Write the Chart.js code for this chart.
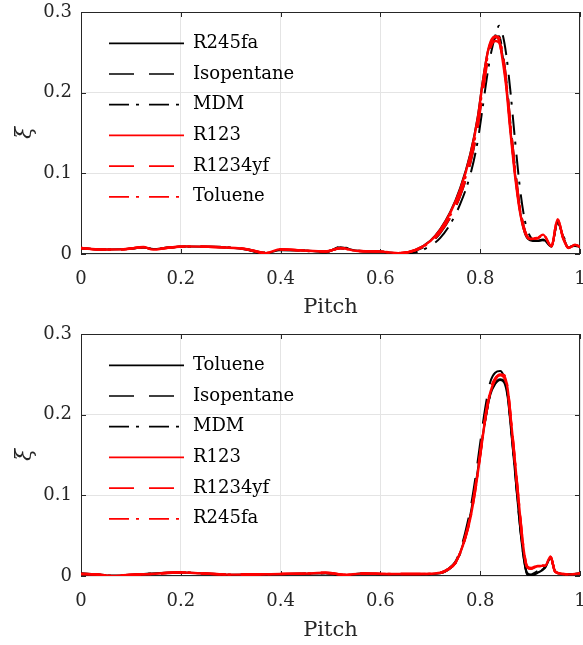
<!DOCTYPE html>
<html>
<head>
<meta charset="utf-8">
<script src="https://cdn.jsdelivr.net/npm/chart.js@4.4.1/dist/chart.umd.min.js"></script>
<style>
body { margin: 0; background: #fff; }
canvas { display: block; }
</style>
</head>
<body>
<canvas id="top" width="583" height="322"></canvas>
<canvas id="bottom" width="583" height="323"></canvas>
<script>
// top panel
const pitchTop = [0, 0.04, 0.09, 0.125, 0.145, 0.17, 0.21, 0.27, 0.33, 0.37, 0.4, 0.44, 0.49, 0.52, 0.55, 0.6, 0.64, 0.67, 0.7, 0.72, 0.74, 0.76, 0.78, 0.795, 0.805, 0.815, 0.822, 0.83, 0.838, 0.845, 0.852, 0.86, 0.87, 0.88, 0.89, 0.9, 0.913, 0.926, 0.943, 0.955, 0.967, 0.977, 0.99, 1.0];
const topR245fa = [.0073, .0057, .0063, .0080, .0062, .0076, .0092, .0088, .0058, .0008, .0050, .0048, .0025, .0085, .0042, .0028, .0008, .0050, .0165, .031, .052, .082, .124, .170, .214, .250, .264, .270, .266, .245, .212, .158, .098, .052, .025, .017, .016, .018, .009, .040, .020, .008, .011, .009];
const topIsopentane = [.0071, .0055, .0060, .0082, .0060, .0074, .0093, .0086, .0063, .0018, .0054, .0045, .0033, .0068, .0039, .0030, .0010, .0040, .0135, .026, .045, .072, .112, .157, .203, .242, .260, .268, .270, .250, .218, .166, .106, .057, .028, .018, .017, .019, .0095, .041, .019, .0078, .0112, .0089];
const topMDM = [.0070, .0056, .0062, .0078, .0064, .0078, .0090, .0090, .0055, .0002, .0045, .0042, .0020, .0090, .0044, .0026, .0002, .0020, .0100, .020, .037, .062, .098, .140, .182, .225, .250, .270, .283, .272, .248, .205, .140, .080, .040, .022, .016, .017, .010, .038, .022, .009, .010, .009];
const topR123 = [.0074, .0055, .0060, .0086, .0055, .0074, .0095, .0086, .0060, .0010, .0060, .0045, .0030, .0074, .0040, .0030, .0010, .0050, .0160, .030, .051, .080, .122, .168, .212, .250, .265, .269, .265, .240, .208, .155, .096, .051, .026, .0185, .019, .024, .0095, .043, .018, .0074, .0115, .0087];
const topR1234yf = [.0072, .0056, .0062, .0083, .0058, .0075, .0093, .0085, .0062, .0015, .0055, .0046, .0032, .0070, .0041, .0031, .0012, .0045, .0145, .027, .046, .073, .113, .158, .200, .240, .258, .264, .262, .242, .212, .160, .100, .054, .027, .019, .019, .023, .010, .042, .019, .0078, .011, .009];
const topToluene = [.0075, .0054, .0061, .0085, .0056, .0073, .0094, .0087, .0061, .0012, .0058, .0044, .0031, .0072, .0040, .0030, .0010, .0048, .0150, .028, .048, .076, .117, .163, .207, .246, .262, .270, .268, .248, .216, .164, .104, .056, .028, .019, .020, .024, .0095, .043, .018, .0075, .0115, .0088];

// bottom panel
const pitchBottom = [0, 0.03, 0.06, 0.1, 0.14, 0.2, 0.24, 0.3, 0.4, 0.45, 0.49, 0.53, 0.56, 0.62, 0.68, 0.72, 0.735, 0.75, 0.76, 0.77, 0.78, 0.79, 0.8, 0.81, 0.82, 0.83, 0.84, 0.848, 0.855, 0.862, 0.87, 0.878, 0.886, 0.894, 0.902, 0.915, 0.93, 0.941, 0.95, 0.965, 0.98, 1.0];
const botToluene = [.0030, .0020, .0005, .0012, .0030, .0042, .0033, .0016, .0024, .0028, .0035, .0008, .0030, .0022, .0022, .0035, .0075, .0160, .029, .049, .075, .110, .152, .193, .224, .238, .243, .240, .222, .180, .127, .072, .027, .002, .000, .004, .010, .022, .0060, .0025, .0022, .0033];
const botIsopentane = [.0028, .0022, .0008, .0015, .0028, .0040, .0034, .0018, .0025, .0030, .0038, .0012, .0031, .0024, .0023, .0040, .0085, .0175, .032, .054, .082, .120, .165, .208, .240, .252, .254, .246, .225, .182, .128, .073, .028, .003, .001, .005, .011, .023, .0062, .0026, .0023, .0034];
const botMDM = [.0032, .0018, .0003, .0010, .0032, .0043, .0032, .0015, .0023, .0027, .0033, .0005, .0029, .0021, .0021, .0033, .0072, .0155, .028, .047, .073, .108, .150, .192, .224, .239, .244, .242, .225, .184, .131, .076, .030, .004, .002, .006, .011, .023, .0058, .0024, .0021, .0032];
const botR123 = [.0025, .0020, .0000, .0015, .0025, .0045, .0033, .0017, .0025, .0030, .0040, .0015, .0030, .0025, .0025, .0040, .0080, .0160, .029, .047, .071, .106, .149, .194, .227, .243, .249, .248, .232, .191, .140, .087, .038, .011, .009, .0125, .0125, .024, .0054, .0025, .0020, .0033];
const botR1234yf = [.0026, .0021, .0002, .0016, .0026, .0044, .0034, .0018, .0026, .0031, .0041, .0016, .0032, .0026, .0026, .0041, .0082, .0165, .030, .049, .074, .110, .153, .197, .230, .245, .249, .246, .230, .189, .138, .085, .037, .011, .009, .012, .013, .024, .0056, .0026, .0021, .0034];
const botR245fa = [.0024, .0019, .0001, .0014, .0025, .0046, .0033, .0017, .0025, .0030, .0039, .0014, .0031, .0025, .0025, .0040, .0079, .0158, .029, .047, .071, .106, .150, .195, .228, .244, .250, .249, .233, .192, .141, .088, .039, .012, .010, .013, .013, .024, .0055, .0025, .0020, .0033];

const serif = 'DejaVu Serif';
const axisColor = '#262626';
const dashed = [25, 15];
const dashDot = [20, 7, 3, 10];

function points(xs, ys) {
  return xs.map((x, i) => ({x: x, y: ys[i]}));
}

function line(label, xs, ys, color, dash) {
  return {
    label: label,
    data: points(xs, ys),
    borderColor: color,
    borderWidth: color === 'red' ? 2.4 : 2,
    borderDash: dash,
    pointRadius: 0,
    cubicInterpolationMode: 'monotone',
    order: color === 'red' ? 0 : 1
  };
}

// inner ticks and box like the original figure
const frame = {
  id: 'frame',
  beforeDatasetsDraw(chart) {
    const {ctx, chartArea: a, scales} = chart;
    ctx.save();
    ctx.strokeStyle = axisColor;
    ctx.lineWidth = 1;
    ctx.beginPath();
    scales.x.ticks.forEach(t => {
      const px = Math.round(scales.x.getPixelForValue(t.value)) + 0.5;
      ctx.moveTo(px, a.bottom); ctx.lineTo(px, a.bottom - 5);
      ctx.moveTo(px, a.top); ctx.lineTo(px, a.top + 5);
    });
    scales.y.ticks.forEach(t => {
      const py = Math.round(scales.y.getPixelForValue(t.value)) + 0.5;
      ctx.moveTo(a.left, py); ctx.lineTo(a.left + 5, py);
      ctx.moveTo(a.right, py); ctx.lineTo(a.right - 5, py);
    });
    ctx.stroke();
    ctx.strokeRect(a.left + 0.5, a.top + 0.5, a.right - a.left - 1, a.bottom - a.top - 1);
    ctx.restore();
  }
};

// put the legend inside the axes, upper left
const legendSpot = {
  id: 'legendSpot',
  afterLayout(chart) {
    const lg = chart.legend, a = chart.chartArea;
    lg.left = a.left + 15.3;
    lg.top = a.top + 9.6;
    lg.right = lg.left + 300;
    lg.bottom = a.bottom;
  }
};

const tickText = v => String(+v.toFixed(2));

function makeChart(id, datasets, xHeight) {
  new Chart(document.getElementById(id), {
    type: 'line',
    data: {datasets: datasets},
    options: {
      responsive: false,
      animation: false,
      layout: {padding: {left: 0, right: 3, top: 12, bottom: 0}},
      plugins: {
        tooltip: {enabled: false},
        legend: {
          position: 'chartArea',
          align: 'start',
          labels: {
            usePointStyle: true,
            pointStyleWidth: 75,
            padding: 12.7,
            color: '#000',
            font: {family: serif, size: 18},
            generateLabels: chart => chart.data.datasets.map((ds, i) => ({
              text: ds.label,
              strokeStyle: ds.borderColor,
              fillStyle: ds.borderColor,
              lineWidth: 1.7,
              lineDash: ds.borderDash || [],
              pointStyle: 'line',
              datasetIndex: i,
              hidden: false
            }))
          }
        }
      },
      scales: {
        x: {
          type: 'linear',
          min: 0,
          max: 1,
          ticks: {stepSize: 0.2, padding: 15, color: axisColor, font: {family: serif, size: 18}, callback: tickText},
          grid: {color: '#e4e4e4', drawTicks: false},
          border: {display: false},
          title: {display: true, text: 'Pitch', color: axisColor, font: {family: serif, size: 21}, padding: {top: 0, bottom: 2}},
          afterFit(s) { s.height = xHeight; s.paddingLeft = 0; s.paddingRight = 0; }
        },
        y: {
          min: 0,
          max: 0.3,
          ticks: {stepSize: 0.1, padding: 9, color: axisColor, font: {family: serif, size: 18}, callback: tickText},
          grid: {color: '#e4e4e4', drawTicks: false},
          border: {display: false},
          title: {display: true, text: 'ξ', color: axisColor, font: {family: serif, size: 22, style: 'italic'}, padding: {top: 12, bottom: 0}},
          afterFit(s) { s.width = 81; s.paddingTop = 0; s.paddingBottom = 0; }
        }
      }
    },
    plugins: [frame, legendSpot]
  });
}

makeChart('top', [
  line('R245fa', pitchTop, topR245fa, 'black', []),
  line('Isopentane', pitchTop, topIsopentane, 'black', dashed),
  line('MDM', pitchTop, topMDM, 'black', dashDot),
  line('R123', pitchTop, topR123, 'red', []),
  line('R1234yf', pitchTop, topR1234yf, 'red', dashed),
  line('Toluene', pitchTop, topToluene, 'red', dashDot)
], 68);

makeChart('bottom', [
  line('Toluene', pitchBottom, botToluene, 'black', []),
  line('Isopentane', pitchBottom, botIsopentane, 'black', dashed),
  line('MDM', pitchBottom, botMDM, 'black', dashDot),
  line('R123', pitchBottom, botR123, 'red', []),
  line('R1234yf', pitchBottom, botR1234yf, 'red', dashed),
  line('R245fa', pitchBottom, botR245fa, 'red', dashDot)
], 69);
</script>
</body>
</html>
